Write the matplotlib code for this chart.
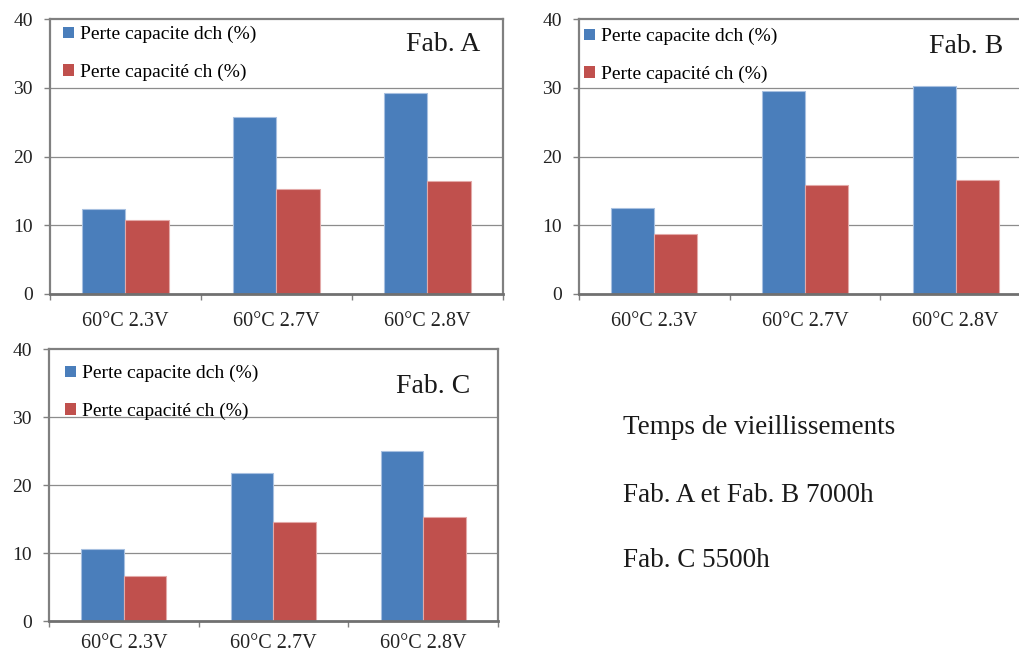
import matplotlib
matplotlib.use("Agg")
import matplotlib.pyplot as plt
import numpy as np

plt.rcParams['font.family'] = ['Liberation Serif', 'DejaVu Serif']

categories = ["60°C 2.3V", "60°C 2.7V", "60°C 2.8V"]
series_names = ["Perte capacite dch (%)", "Perte capacité ch (%)"]
panel_titles = ["Fab. A", "Fab. B", "Fab. C"]
dch_A = [12.3, 25.8, 29.3]
ch_A = [10.7, 15.3, 16.4]
dch_B = [12.45, 29.5, 30.25]
ch_B = [8.8, 15.8, 16.6]
dch_C = [10.6, 21.8, 24.95]
ch_C = [6.6, 14.5, 15.25]
y_ticks = [0, 10, 20, 30, 40]
note_lines = ["Temps de vieillissements", "Fab. A et Fab. B 7000h", "Fab. C 5500h"]

BLUE = "#4A7EBB"
RED = "#C0504D"
BLUE_EDGE = "#A7C0E0"
RED_EDGE = "#E3A9A8"
FRAME = "#808080"

W, H = 1020, 655
fig = plt.figure(figsize=(W / 100, H / 100), dpi=100)

def px_axes(left, top, width, height):
    return fig.add_axes([left / W, (H - top - height) / H, width / W, height / H])

panels = [
    dict(rect=(50, 19, 453, 275), dch=dch_A, ch=ch_A, title=panel_titles[0],
         leg=(13, 7), fab=(480, 51), xpad=13),
    dict(rect=(579, 19, 452, 275), dch=dch_B, ch=ch_B, title=panel_titles[1],
         leg=(5, 9), fab=(1003, 53), xpad=13),
    dict(rect=(49, 349, 449, 272), dch=dch_C, ch=ch_C, title=panel_titles[2],
         leg=(16, 16), fab=(470, 393), xpad=9.5),
]

bw = 0.285
for p in panels:
    l, t, w, h = p["rect"]
    ax = px_axes(l, t, w, h)
    x = np.arange(len(categories))
    b1 = ax.bar(x - bw / 2, p["dch"], bw, color=BLUE, edgecolor=BLUE_EDGE, linewidth=0.8,
                label=series_names[0], zorder=3)
    b2 = ax.bar(x + bw / 2, p["ch"], bw, color=RED, edgecolor=RED_EDGE, linewidth=0.8,
                label=series_names[1], zorder=3)
    ax.set_xlim(-0.5, len(categories) - 0.5)
    ax.set_ylim(0, 40)
    ax.set_yticks(y_ticks)
    ax.set_yticklabels([str(v) for v in y_ticks], fontsize=14, color="#222222")
    ax.set_xticks(np.arange(len(categories) + 1) - 0.5)
    ax.set_xticklabels([])
    ax.set_xticks(x, minor=True)
    ax.set_xticklabels(categories, minor=True, fontsize=14.5, color="#222222")
    ax.tick_params(axis="x", which="major", direction="out", length=4.5, width=1, color=FRAME)
    ax.tick_params(axis="x", which="minor", length=0, pad=p["xpad"])
    ax.tick_params(axis="y", direction="out", length=4.5, width=1, color=FRAME, pad=8)
    for v in y_ticks[1:-1]:
        ax.axhline(v, color="#8C8C8C", linewidth=0.9, zorder=1)
    for s in ax.spines.values():
        s.set_color(FRAME)
        s.set_linewidth(1.6)
    ax.spines["bottom"].set_color("#707070")
    ax.spines["bottom"].set_linewidth(2.0)
    ax.spines["bottom"].set_zorder(4)

    lx, ly = p["leg"]
    leg = ax.legend(handles=[b1, b2], loc="upper left",
                    bbox_to_anchor=(lx / w, 1 - ly / h), frameon=False,
                    prop={"size": 14}, handlelength=0.55, handleheight=0.55,
                    handletextpad=0.3, labelspacing=1.05, borderpad=0, borderaxespad=0)
    for hdl in leg.legend_handles:
        hdl.set_edgecolor("none")
    fx, fy = p["fab"]
    fig.text(fx / W, 1 - fy / H, p["title"], fontsize=20, ha="right", va="baseline",
             color="#1a1a1a")

baselines = [434, 502, 567]
for txt, yb in zip(note_lines, baselines):
    fig.text(623 / W, 1 - yb / H, txt, fontsize=19.5, ha="left", va="baseline", color="#1a1a1a")

fig.savefig("out.png", dpi=100)
